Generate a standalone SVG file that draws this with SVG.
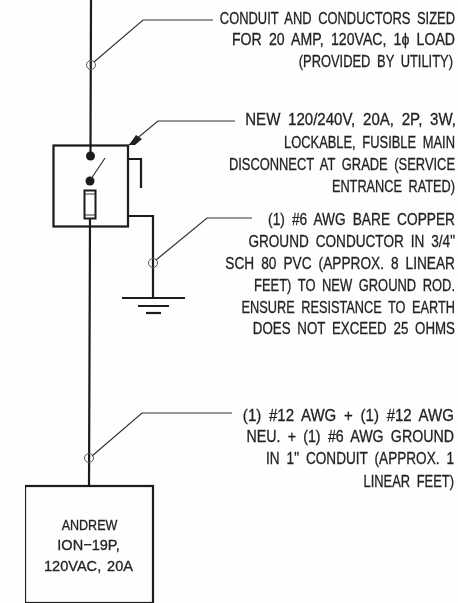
<svg xmlns="http://www.w3.org/2000/svg" width="458" height="603" viewBox="0 0 458 603">
<style>
text{font-family:"Liberation Sans",Arial,sans-serif;font-size:17px;fill:#222;stroke:#222;stroke-width:.3;word-spacing:4px;text-anchor:end}
.b text{font-size:15.500px;word-spacing:2px;text-anchor:middle}
.w{fill:none;stroke:#1a1a1a;stroke-width:2.200}
.l{fill:none;stroke:#333;stroke-width:1.200}
.c{fill:none;stroke:#555;stroke-width:1}
</style>
<defs><filter id="soft" x="0" y="0" width="100%" height="100%"><feGaussianBlur stdDeviation="0.4"/></filter></defs>
<rect width="458" height="603" fill="#fefefe"/>
<g filter="url(#soft)">
<g id="connectors">
<path class="w" d="M91 0L90.500 152M90 219L89 486"/>
<path class="w" d="M128 159H141V188M128 216H153V298"/>
<path class="w" d="M122 298H185M138 306H169"/>
<path class="w" d="M146 313H161"/>
<path class="l" d="M94 62L143 20H213M156 260L207 218H252M92 456L142 413H232M129 145L158 121H235"/>
<path d="M129 145L136 135L142 139L135 145Z" fill="#222"/>
<circle class="c" cx="91" cy="65" r="4.500"/>
<circle class="c" cx="153" cy="263" r="4.500"/>
<circle class="c" cx="89" cy="458" r="4.500"/>
</g>
<g id="disconnect">
<rect class="w" x="53.500" y="145.500" width="74.500" height="81"/>
<circle cx="90.500" cy="156" r="4.500" fill="#1a1a1a"/>
<circle cx="90" cy="181" r="4.500" fill="#1a1a1a"/>
<path class="l" d="M91 179L105 158"/>
<rect x="84.500" y="190.500" width="11" height="28" fill="#fff" stroke="#1a1a1a" stroke-width="2"/>
<path class="l" d="M85 194H95M85 215H95"/>
</g>
<g id="load" class="b">
<rect class="w" x="25" y="486" width="128" height="117"/>
<text transform="translate(89.500 530) scale(.81 1)">ANDREW</text>
<text transform="translate(88.500 550) scale(.94 1)">ION−19P,</text>
<text transform="translate(88.500 570.500) scale(.94 1)">120VAC, 20A</text>
</g>
<g id="note-conduit">
<text transform="translate(455 23.500) scale(.76 1)">CONDUIT AND CONDUCTORS SIZED</text>
<text transform="translate(455 45) scale(.83 1)">FOR 20 AMP, 120VAC, 1ϕ LOAD</text>
<text transform="translate(453 67) scale(.76 1)">(PROVIDED BY UTILITY)</text>
</g>
<g id="note-main">
<text transform="translate(456 125) scale(.886 1)">NEW 120/240V, 20A, 2P, 3W,</text>
<text transform="translate(455 147.500) scale(.76 1)">LOCKABLE, FUSIBLE MAIN</text>
<text transform="translate(455 170) scale(.76 1)">DISCONNECT AT GRADE (SERVICE</text>
<text transform="translate(455 192) scale(.75 1)">ENTRANCE RATED)</text>
</g>
<g id="note-ground">
<text transform="translate(455 224.500) scale(.807 1)">(1) #6 AWG BARE COPPER</text>
<text transform="translate(455 246.500) scale(.8 1)">GROUND CONDUCTOR IN 3/4"</text>
<text transform="translate(455 268.500) scale(.805 1)">SCH 80 PVC (APPROX. 8 LINEAR</text>
<text transform="translate(455 291) scale(.76 1)">FEET) TO NEW GROUND ROD.</text>
<text transform="translate(455 312.500) scale(.75 1)">ENSURE RESISTANCE TO EARTH</text>
<text transform="translate(455 334) scale(.783 1)">DOES NOT EXCEED 25 OHMS</text>
</g>
<g id="note-feeder">
<text transform="translate(454 420.500) scale(.885 1)">(1) #12 AWG + (1) #12 AWG</text>
<text transform="translate(454 442) scale(.836 1)">NEU. + (1) #6 AWG GROUND</text>
<text transform="translate(454 464) scale(.8 1)">IN 1" CONDUIT (APPROX. 1</text>
<text transform="translate(454 486.500) scale(.76 1)">LINEAR FEET)</text>
</g>
</g>
</svg>
